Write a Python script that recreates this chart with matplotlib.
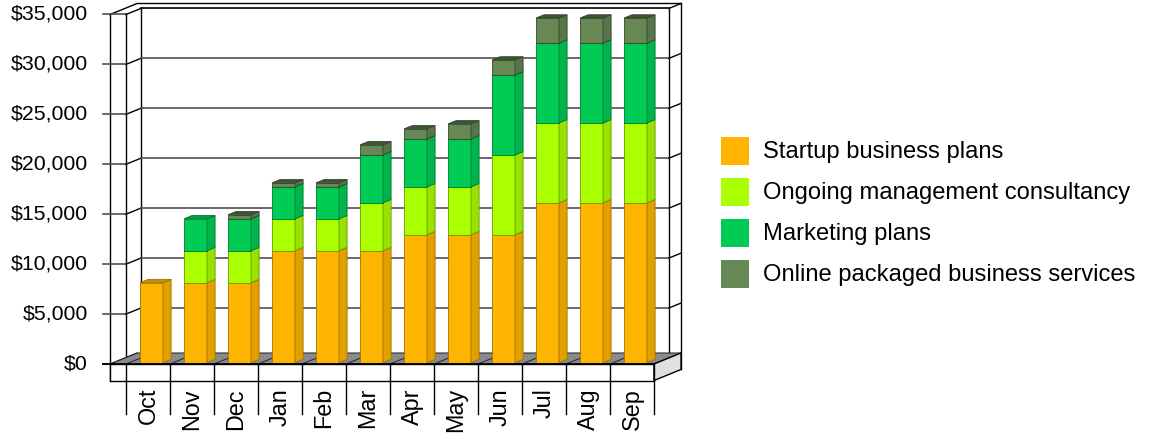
import matplotlib
matplotlib.use("Agg")
import matplotlib.pyplot as plt
from matplotlib.patches import Polygon, Rectangle

# ---------------- data ----------------
months = ["Oct", "Nov", "Dec", "Jan", "Feb", "Mar", "Apr", "May", "Jun", "Jul", "Aug", "Sep"]
startup = [8000, 8000, 8000, 11200, 11200, 11200, 12800, 12800, 12800, 16000, 16000, 16000]
ongoing = [0, 3200, 3200, 3200, 3200, 4800, 4800, 4800, 8000, 8000, 8000, 8000]
marketing = [0, 3200, 3200, 3200, 3200, 4800, 4800, 4800, 8000, 8000, 8000, 8000]
online = [0, 0, 400, 400, 400, 1000, 1000, 1500, 1500, 2500, 2500, 2500]
series_names = ["Startup business plans", "Ongoing management consultancy",
                "Marketing plans", "Online packaged business services"]
y_ticks = [0, 5000, 10000, 15000, 20000, 25000, 30000, 35000]
y_max = 35000

# ---------------- style ----------------
FONT = "Liberation Sans"
FS = 15.3
FS_LEG = 17.1
FS_CAT = 16.8
colors = {
    "front": ["#FFB400", "#AAFF00", "#00CC55", "#668855"],
    "side":  ["#E2A000", "#97E200", "#00B44B", "#57744A"],
    "top":   ["#C89000", "#86C800", "#009E42", "#3F5434"],
    "edge":  ["#A07400", "#6E9A00", "#007A33", "#34462B"],
}

# layout (pixel geometry converted to axes data units)
CAT_PX = 44.0
X0_PX = 148.0
Y0_PX = 364.0
TOP_PX = 14.5
YPX = (Y0_PX - TOP_PX) / y_max  # pixels per dollar


def px2x(px):
    return (px - X0_PX) / CAT_PX


def py2y(py):
    return (Y0_PX - py) / YPX


def dx_px(p):
    return p / CAT_PX


def dy_px(p):
    return p / YPX


DX = dx_px(27)       # full depth, x
DY = dy_px(11)       # full depth, y
WALL_D = 15 / 27     # depth of back wall with grid
n = len(months)

fig = plt.figure(figsize=(11.49, 4.36), dpi=100)
ax = fig.add_axes([0, 0, 1, 1])
ax.set_xlim(px2x(0), px2x(1149))
ax.set_ylim(py2y(436), py2y(0))
ax.axis("off")

x_left = -0.5 - dx_px(16)    # outer left edge (front)
x_front_l = -0.5
x_front_r = n - 0.5
LW = 1.0
GRID_C = "#505050"

# outer frame
ax.plot([x_left, x_left + DX, x_front_r + DX], [y_max, y_max + DY, y_max + DY], color="k", lw=LW)
ax.plot([x_front_r + DX, x_front_r + DX], [y_max + DY, DY - dy_px(16)], color="k", lw=LW)
ax.plot([x_left, x_left], [y_max, -dy_px(17)], color="k", lw=LW)
ax.plot([x_front_l, x_front_l], [y_max, 0], color="k", lw=LW)

# inner back wall
wdx, wdy = WALL_D * DX, WALL_D * DY
ax.plot([x_front_l + wdx, x_front_l + wdx], [y_max + wdy, wdy], color="k", lw=LW)
ax.plot([x_front_r + wdx, x_front_r + wdx], [y_max + wdy, wdy], color="k", lw=LW)

for v in y_ticks:
    c = "k" if v == y_max else GRID_C
    ax.plot([px2x(103), x_front_l], [v, v], color=GRID_C, lw=1.2)
    ax.plot([x_front_l, x_front_l + wdx], [v, v + wdy], color="k", lw=LW)
    ax.plot([x_front_l + wdx, x_front_r + wdx], [v + wdy, v + wdy], color=c, lw=1.2)
    ax.plot([x_front_r + wdx, x_front_r + DX], [v + wdy, v + DY], color="k", lw=LW)
    ax.text(px2x(88), v, f"${v:,}", ha="right", va="center", fontsize=FS, family=FONT)

# floor (top face)
ax.add_patch(Polygon([(x_left, 0), (x_front_r, 0), (x_front_r + DX, DY), (x_left + DX, DY)],
                     closed=True, facecolor="#8A8A8A", edgecolor="#303030", lw=0.8, zorder=2))
for i in range(n + 1):
    xs = -0.5 + i
    ax.plot([xs, xs + DX], [0, DY], color="#303030", lw=0.8, zorder=2)
ax.plot([x_left, x_left + DX], [0, DY], color="#303030", lw=0.8, zorder=2)

# bars
D0 = 0.13
DB = 0.30
W = dx_px(23)
stack = [startup, ongoing, marketing, online]
for i in range(n):
    base = 0.0
    for s, vals in enumerate(stack):
        h = vals[i]
        if h <= 0:
            continue
        xl = i + D0 * DX - W / 2
        xr = xl + W
        yb = base + D0 * DY
        yt = base + h + D0 * DY
        ddx, ddy = DB * DX, DB * DY
        ec = colors["edge"][s]
        ax.add_patch(Polygon([(xl, yb), (xr, yb), (xr, yt), (xl, yt)], closed=True,
                             facecolor=colors["front"][s], edgecolor=ec, lw=0.6, zorder=3))
        ax.add_patch(Polygon([(xr, yb), (xr + ddx, yb + ddy), (xr + ddx, yt + ddy), (xr, yt)],
                             closed=True, facecolor=colors["side"][s], edgecolor=ec, lw=0.6, zorder=3))
        ax.add_patch(Polygon([(xl, yt), (xr, yt), (xr + ddx, yt + ddy), (xl + ddx, yt + ddy)],
                             closed=True, facecolor=colors["top"][s], edgecolor=ec, lw=0.6, zorder=3))
        base += h

# floor front box
box_h = dy_px(16.5)
ax.add_patch(Polygon([(x_left, 0), (x_front_r, 0), (x_front_r, -box_h), (x_left, -box_h)],
                     closed=True, facecolor="white", edgecolor="k", lw=LW, zorder=4))
ax.add_patch(Polygon([(x_front_r, 0), (x_front_r + DX, DY), (x_front_r + DX, DY - box_h),
                      (x_front_r, -box_h)], closed=True, facecolor="#E0E0E0", edgecolor="k",
                     lw=LW, zorder=4))
ax.plot([px2x(103), x_front_r], [0, 0], color="k", lw=1.3, zorder=5)

# category separators and labels
sep_bottom = -dy_px(50)
for i in range(n + 1):
    xs = -0.5 + i
    ax.plot([xs, xs], [0, sep_bottom], color="k", lw=LW, zorder=5)
for i, m in enumerate(months):
    ax.text(i, py2y(388), m, rotation=90, ha="center", va="top", fontsize=FS_CAT, family=FONT)

# legend
sq = 28
for s, name in enumerate(series_names):
    top_px = 137 + 41 * s
    ax.add_patch(Rectangle((px2x(721), py2y(top_px + sq)), dx_px(sq), dy_px(sq),
                           facecolor=colors["front"][s], edgecolor="none"))
    ax.text(px2x(763), py2y(top_px + sq / 2 + 1), name, ha="left", va="center",
            fontsize=FS_LEG, family=FONT)

fig.savefig("out.png", dpi=100)
